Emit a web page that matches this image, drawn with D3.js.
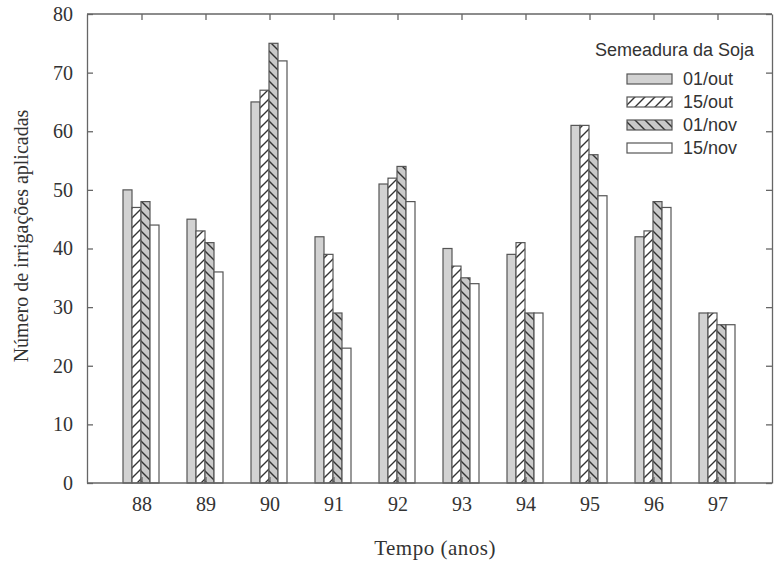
<!DOCTYPE html>
<html>
<head>
<meta charset="utf-8">
<script src="https://cdn.jsdelivr.net/npm/d3@7"></script>
<style>
  body { margin: 0; background: #fff; }
  .axis path, .axis line { stroke: #666; stroke-width: 1.3; }
  .axis text { font-family: "Liberation Serif", "Times New Roman", serif; font-size: 20px; fill: #333; }
</style>
</head>
<body>
<div id="chart"></div>
<script>

var years = ['88', '89', '90', '91', '92', '93', '94', '95', '96', '97'];
var series = ['01/out', '15/out', '01/nov', '15/nov'];
var out01 = [50, 45, 65, 42, 51, 40, 39, 61, 42, 29];
var out15 = [47, 43, 67, 39, 52, 37, 41, 61, 43, 29];
var nov01 = [48, 41, 75, 29, 54, 35, 29, 56, 48, 27];
var nov15 = [44, 36, 72, 23, 48, 34, 29, 49, 47, 27];
var yTicks = [0, 10, 20, 30, 40, 50, 60, 70, 80];

var values = [out01, out15, nov01, nov15];

var W = 778, H = 561;
var plotL = 87, plotR = 772, plotT = 14, plotB = 483;

var svg = d3.select('#chart').append('svg')
    .attr('width', W)
    .attr('height', H);

// hatch patterns
var defs = svg.append('defs');

function hatch(id, dir, bg) {
  var p = defs.append('pattern')
      .attr('id', id)
      .attr('patternUnits', 'userSpaceOnUse')
      .attr('width', 10)
      .attr('height', 10);
  p.append('rect').attr('width', 10).attr('height', 10).attr('fill', bg);
  var d = dir > 0
    ? 'M-2,2 L2,-2 M0,10 L10,0 M8,12 L12,8'
    : 'M-2,8 L2,12 M0,0 L10,10 M8,-2 L12,2';
  p.append('path').attr('d', d)
      .attr('stroke', '#333')
      .attr('stroke-width', 1.4);
}
hatch('fwd', 1, '#fff');
hatch('back', -1, '#c9c9c9');

var fills = ['#d2d2d2', 'url(#fwd)', 'url(#back)', '#fff'];

var x = d3.scaleBand()
    .domain(years)
    .range([110, 750])
    .padding(0);

var xs = d3.scaleBand()
    .domain(series)
    .range([x.bandwidth() / 2 - 19, x.bandwidth() / 2 + 17])
    .padding(0);

var y = d3.scaleLinear()
    .domain([0, 80])
    .range([plotB, plotT]);

// bars
var groups = svg.selectAll('.grp')
    .data(years)
  .enter().append('g')
    .attr('class', 'grp')
    .attr('transform', function(d) { return 'translate(' + x(d) + ',0)'; });

groups.selectAll('rect')
    .data(function(d, i) { return series.map(function(s, k) { return {s: s, k: k, v: values[k][i]}; }); })
  .enter().append('rect')
    .attr('x', function(d) { return xs(d.s); })
    .attr('width', xs.bandwidth())
    .attr('y', function(d) { return y(d.v); })
    .attr('height', function(d) { return y(0) - y(d.v); })
    .attr('fill', function(d) { return fills[d.k]; })
    .attr('stroke', '#555')
    .attr('stroke-width', 1.2);

// axes (ticks point inward)
svg.append('g')
    .attr('class', 'axis')
    .attr('transform', 'translate(' + plotL + ',0)')
    .call(d3.axisLeft(y).tickValues(yTicks).tickSizeInner(-6).tickSizeOuter(0).tickPadding(14));

svg.append('g')
    .attr('class', 'axis')
    .attr('transform', 'translate(' + plotR + ',0)')
    .call(d3.axisRight(y).tickValues(yTicks).tickSizeInner(-6).tickSizeOuter(0).tickFormat(''));

var xb = svg.append('g')
    .attr('class', 'axis')
    .attr('transform', 'translate(0,' + plotB + ')')
    .call(d3.axisBottom(x).tickSizeInner(-6).tickSizeOuter(0));
xb.select('.domain').attr('d', 'M' + plotL + ',0H' + plotR);
xb.selectAll('text').attr('y', 14);

var xt = svg.append('g')
    .attr('class', 'axis')
    .attr('transform', 'translate(0,' + plotT + ')')
    .call(d3.axisTop(x).tickSizeInner(-6).tickSizeOuter(0).tickFormat(''));
xt.select('.domain').attr('d', 'M' + plotL + ',0H' + plotR);

// axis titles
svg.append('text')
    .attr('transform', 'translate(28,236)rotate(-90)')
    .attr('text-anchor', 'middle')
    .style('font-family', '"Liberation Serif", serif')
    .style('font-size', '20px')
    .style('fill', '#333')
    .text('Número de irrigações aplicadas');

svg.append('text')
    .attr('x', 435)
    .attr('y', 555)
    .attr('text-anchor', 'middle')
    .style('font-family', '"Liberation Serif", serif')
    .style('font-size', '21px')
    .style('letter-spacing', '0.5px')
    .style('fill', '#333')
    .text('Tempo (anos)');

// legend
var legend = svg.append('g').attr('class', 'legend');

legend.append('text')
    .attr('x', 754)
    .attr('y', 56)
    .attr('text-anchor', 'end')
    .style('font-family', '"Liberation Sans", Arial, sans-serif')
    .style('font-size', '18px')
    .style('fill', '#333')
    .text('Semeadura da Soja');

var item = legend.selectAll('.item')
    .data(series)
  .enter().append('g')
    .attr('class', 'item')
    .attr('transform', function(d, i) { return 'translate(0,' + (79 + i * 23) + ')'; });

item.append('rect')
    .attr('x', 627)
    .attr('y', -5)
    .attr('width', 45)
    .attr('height', 10)
    .attr('fill', function(d, i) { return fills[i]; })
    .attr('stroke', '#555')
    .attr('stroke-width', 1.2);

item.append('text')
    .attr('x', 683)
    .attr('y', 6)
    .style('font-family', '"Liberation Sans", Arial, sans-serif')
    .style('font-size', '18px')
    .style('fill', '#333')
    .text(function(d) { return d; });

</script>
</body>
</html>
